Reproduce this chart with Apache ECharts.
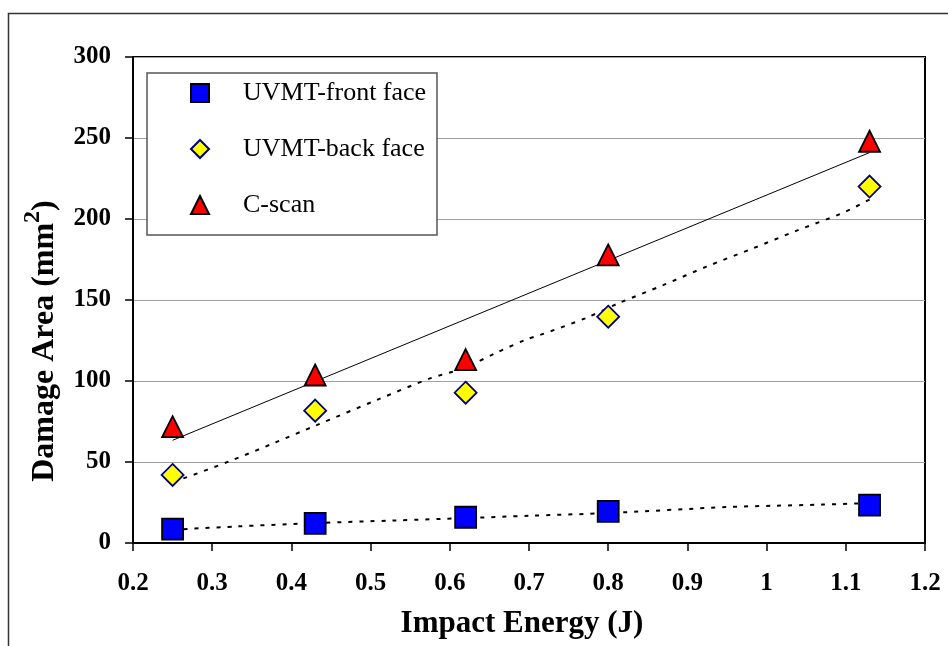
<!DOCTYPE html>
<html>
<head>
<meta charset="utf-8">
<script src="https://cdn.jsdelivr.net/npm/echarts@6/dist/echarts.min.js"></script>
<style>html,body{margin:0;padding:0;background:#fff;}#c{width:948px;height:646px;}</style>
</head>
<body>
<div id="c"></div>
<script>
// ---- data ----
const energy = [0.25, 0.43, 0.62, 0.8, 1.13];
const frontFace = [8.6, 12.1, 15.9, 19.5, 23.4];
const backFace = [42, 81.7, 92.8, 139.7, 220];
const cScan = [71.8, 103.7, 113.2, 177.8, 248];

// trend lines
const frontTrendX = [0.25, 0.33, 0.43, 0.53, 0.62, 0.70, 0.80, 0.95, 1.01, 1.07, 1.13];
const frontTrendY = [8.2, 10.2, 12.3, 13.9, 15.4, 16.8, 18.5, 22.2, 23.0, 23.7, 24.7];
const backTrendX = [0.25, 0.2635, 0.3225, 0.377, 0.432, 0.508, 0.575, 0.617, 0.659, 0.697, 0.714, 0.771, 0.813, 0.870, 0.924, 0.983, 1.038, 1.095, 1.13];
const backTrendY = [38.5, 39.9, 50.6, 61.5, 72.8, 88.3, 101.6, 107.8, 117.5, 125.7, 128.4, 138.7, 148, 159.3, 170.6, 181.9, 192.8, 203.5, 212];
const cScanTrendX = [0.25, 1.13];
const cScanTrendY = [63.4, 241];

const seriesNames = ['UVMT-front face', 'UVMT-back face', 'C-scan'];
const xTicks = {min: 0.2, max: 1.2, interval: 0.1};
const yTicks = {min: 0, max: 300, interval: 50};

const FONT = '"Liberation Serif", "Times New Roman", serif';
const pair = (xs, ys) => xs.map((x, i) => [x, ys[i]]);

const chart = echarts.init(document.getElementById('c'), null, {renderer: 'canvas'});
chart.setOption({
  animation: false,
  backgroundColor: '#fff',
  grid: {left: 133, right: 23, top: 57, bottom: 103, show: true, borderColor: '#000', borderWidth: 2, backgroundColor: 'transparent'},
  graphic: [
    {type: 'rect', z: 0, silent: true, shape: {x: 8.5, y: 13.5, width: 1000, height: 700}, style: {fill: 'none', stroke: '#333', lineWidth: 1.5}},
    {type: 'rect', z: 5, silent: true, shape: {x: 147, y: 73, width: 290, height: 162}, style: {fill: '#fff', stroke: '#555', lineWidth: 1.5}}
  ],
  legend: {
    z: 10,
    data: seriesNames,
    orient: 'vertical',
    left: 190,
    top: 79,
    itemWidth: 18,
    itemHeight: 18,
    itemGap: 28,
    padding: 0,
    textStyle: {fontFamily: FONT, fontSize: 26, color: '#000', lineHeight: 28, padding: [0, 0, 0, 29]}
  },
  xAxis: {
    type: 'value',
    min: xTicks.min, max: xTicks.max, interval: xTicks.interval,
    name: 'Impact Energy (J)',
    nameLocation: 'middle',
    nameGap: 65,
    nameTextStyle: {fontFamily: FONT, fontSize: 31, fontWeight: 'bold', color: '#000', padding: [0, 14, 0, 0]},
    axisLine: {show: true, onZero: false, lineStyle: {color: '#000', width: 2}},
    axisTick: {show: true, length: 8, lineStyle: {color: '#000', width: 1.5}},
    axisLabel: {fontFamily: FONT, fontSize: 25, fontWeight: 'bold', color: '#000', margin: 28},
    splitLine: {show: false}
  },
  yAxis: {
    type: 'value',
    min: yTicks.min, max: yTicks.max, interval: yTicks.interval,
    name: '{a|Damage Area (mm}{s|2}{a|)}',
    nameLocation: 'middle',
    nameGap: 72,
    nameTextStyle: {
      fontFamily: FONT, fontSize: 32, fontWeight: 'bold', color: '#000',
      padding: [0, 82, 0, 0],
      rich: {
        a: {fontFamily: FONT, fontSize: 32, fontWeight: 'bold', color: '#000', verticalAlign: 'bottom'},
        s: {fontFamily: FONT, fontSize: 24, fontWeight: 'bold', color: '#000', verticalAlign: 'bottom', padding: [0, 0, 16, 0]}
      }
    },
    axisLine: {show: true, onZero: false, lineStyle: {color: '#000', width: 2}},
    axisTick: {show: true, length: 8, lineStyle: {color: '#000', width: 1.5}},
    axisLabel: {fontFamily: FONT, fontSize: 25, fontWeight: 'bold', color: '#000', margin: 22},
    splitLine: {show: true, lineStyle: {color: '#a0a0a0', width: 1}}
  },
  series: [
    {name: 'front-trend', type: 'line', data: pair(frontTrendX, frontTrendY), symbol: 'none', smooth: 0.3, silent: true, z: 1,
     lineStyle: {color: '#000', width: 2, type: [4, 7]}},
    {name: 'back-trend', type: 'line', data: pair(backTrendX, backTrendY), symbol: 'none', smooth: 0.3, silent: true, z: 1,
     lineStyle: {color: '#000', width: 2, type: [4, 7]}},
    {name: 'cscan-trend', type: 'line', data: pair(cScanTrendX, cScanTrendY), symbol: 'none', silent: true, z: 1,
     lineStyle: {color: '#000', width: 1}},
    {name: seriesNames[0], type: 'scatter', data: pair(energy, frontFace), symbol: 'rect', symbolSize: 21, z: 3,
     itemStyle: {color: '#0000ff', borderColor: '#000', borderWidth: 1.8, opacity: 1}},
    {name: seriesNames[1], type: 'scatter', data: pair(energy, backFace), symbol: 'diamond', symbolSize: 22, z: 3,
     itemStyle: {color: '#ffff00', borderColor: '#000080', borderWidth: 1.8, opacity: 1}},
    {name: seriesNames[2], type: 'scatter', data: pair(energy, cScan), symbol: 'triangle', symbolSize: 21, z: 3,
     itemStyle: {color: '#ff0000', borderColor: '#000', borderWidth: 1.8, opacity: 1}}
  ]
});
</script>
</body>
</html>
